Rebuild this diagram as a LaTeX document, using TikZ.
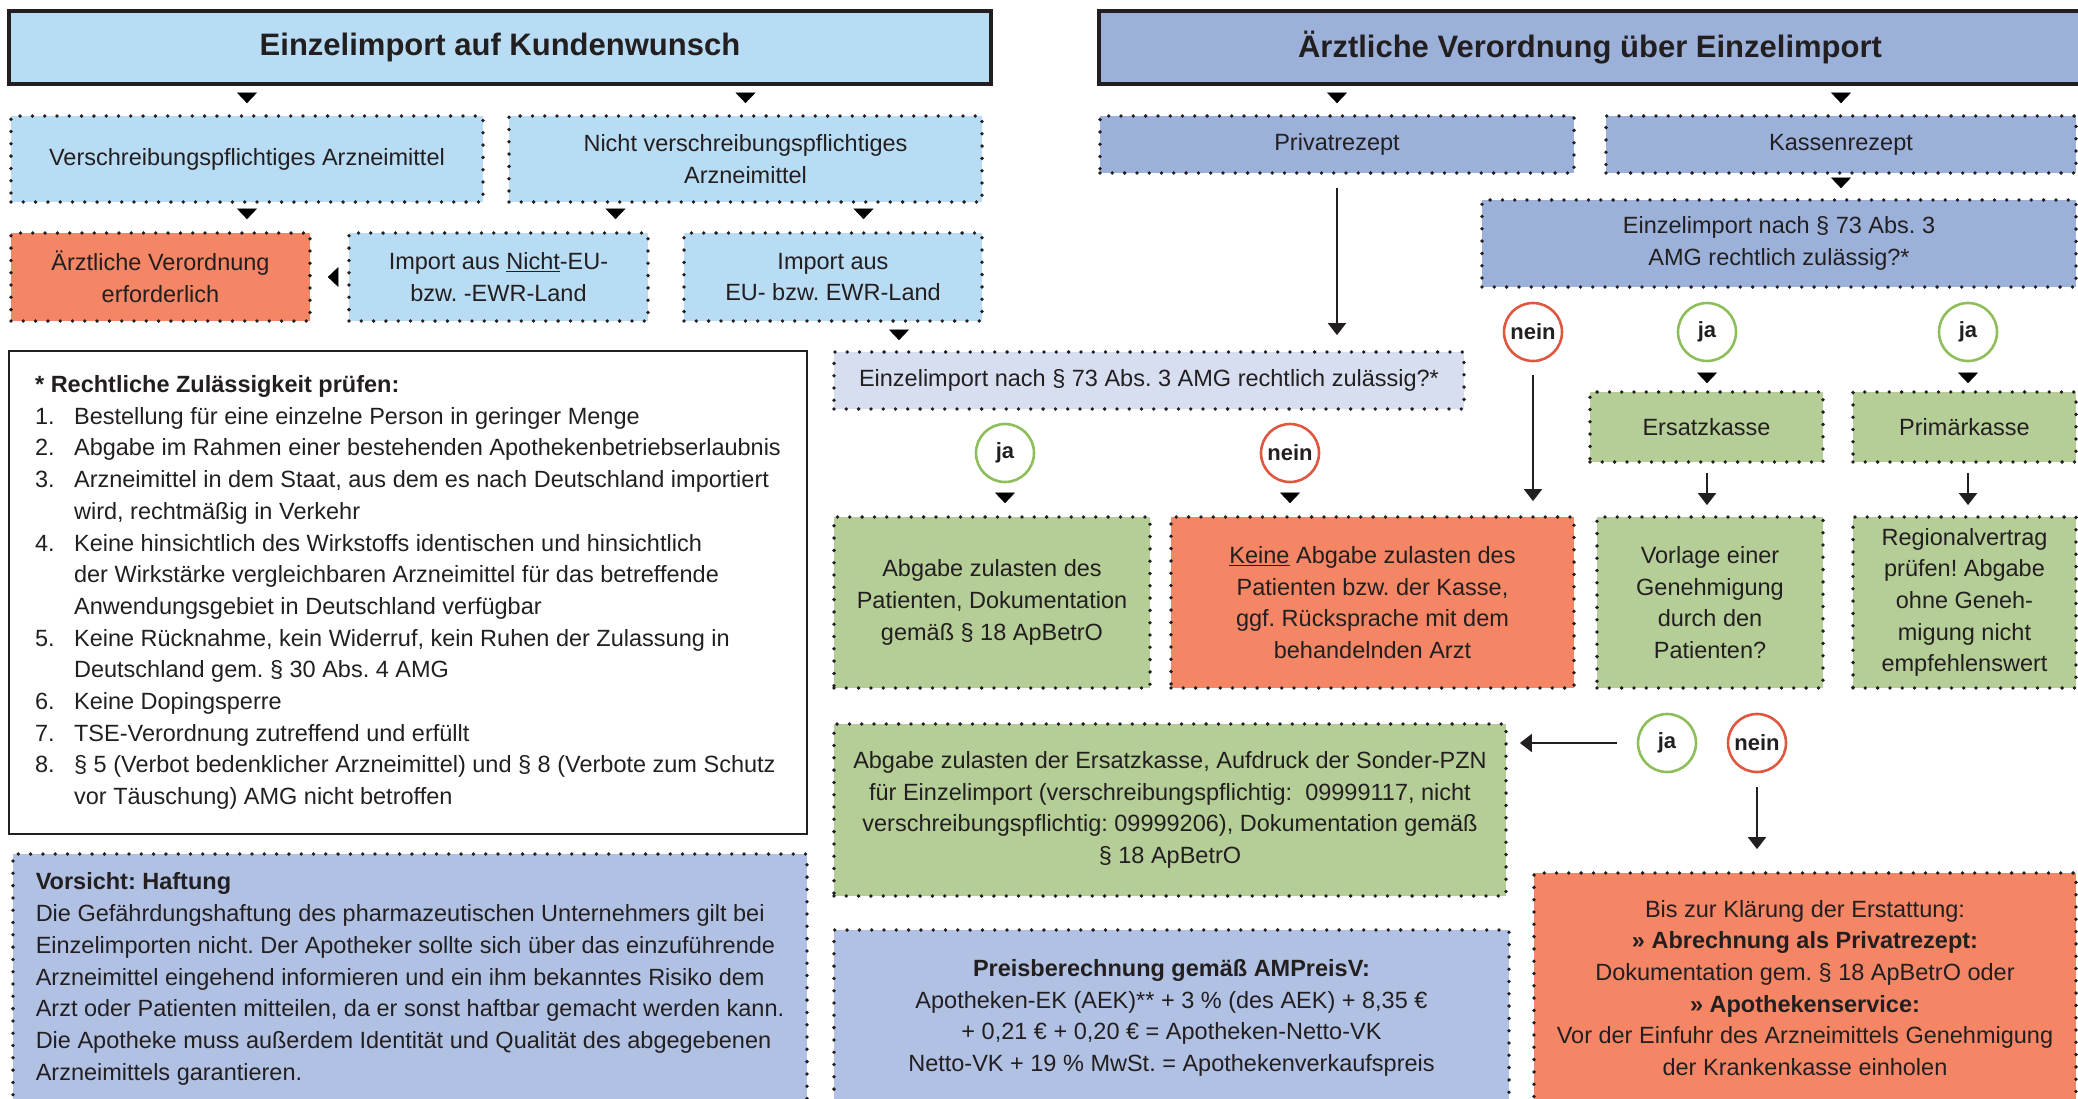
\documentclass[tikz,border=0pt]{standalone}
\usepackage{fontspec}
\setmainfont{Liberation Sans}
\usetikzlibrary{arrows.meta,decorations.markings}
\frenchspacing

\definecolor{ink}{HTML}{231F20}
\definecolor{skyfill}{HTML}{B8DCF3}
\definecolor{rxfill}{HTML}{9CB1DA}
\definecolor{palefill}{HTML}{D6DEF0}
\definecolor{notefill}{HTML}{B1C1E3}
\definecolor{okfill}{HTML}{B5CD96}
\definecolor{stopfill}{HTML}{F48565}
\definecolor{okring}{HTML}{8DBE5A}
\definecolor{stopring}{HTML}{E0573F}

\newcommand{\recnum}[1]{\makebox[39pt][l]{#1}}

\tikzset{
  headbox/.style={draw=ink, line width=4pt, inner sep=0pt, font=\fontsize{31}{36}\selectfont\bfseries},
  dotbox/.style={draw=ink, line width=3.8pt, dash pattern=on 0pt off 12.3pt, line cap=round, inner sep=0pt, align=center},
  ringja/.style={circle, draw=okring, line width=2.6pt, minimum size=58pt, inner sep=0pt, font=\fontsize{22}{26}\selectfont\bfseries},
  ringnein/.style={ringja, draw=stopring},
  tipto/.style={color=ink, decorate, decoration={markings, mark=at position #1 with {\arrow{Triangle[width=20pt,length=10.5pt]}}}},
  longto/.style={draw=ink, line width=2.2pt, -{Triangle[width=18pt,length=12pt]}}
}

\begin{document}
\begin{tikzpicture}[x=1pt, y=-1pt, text=ink, font=\fontsize{23.5}{31.7}\selectfont]
\useasboundingbox (0,0) rectangle (2078,1098);

\node[headbox, fill=skyfill, minimum width=982pt, minimum height=73pt] (kunde) at (500,47.5) {Einzelimport auf Kundenwunsch};
\node[headbox, fill=rxfill, minimum width=982pt, minimum height=73pt] (verord) at (1590,47.5) {Ärztliche Verordnung über Einzelimport};

\node[dotbox, fill=skyfill, minimum width=472pt, minimum height=86pt] (vpa) at (247,159) {Verschreibungspflichtiges Arzneimittel};
\node[dotbox, fill=skyfill, minimum width=473pt, minimum height=86pt] (nvpa) at (745.5,159) {Nicht verschreibungspflichtiges\\Arzneimittel};
\node[dotbox, fill=stopfill, minimum width=299pt, minimum height=88pt] (aerzt) at (160.5,277) {Ärztliche Verordnung\\erforderlich};
\node[dotbox, fill=skyfill, minimum width=299pt, minimum height=88pt] (nichteu) at (498.5,277) {Import aus \underline{Nicht}-EU-\\bzw. -EWR-Land};
\node[dotbox, fill=skyfill, minimum width=298pt, minimum height=88pt] (eu) at (833,277) {Import aus\\EU- bzw. EWR-Land};

\node[dotbox, fill=rxfill, minimum width=474pt, minimum height=57pt] (priv) at (1337,144.5) {Privatrezept};
\node[dotbox, fill=rxfill, minimum width=470pt, minimum height=57pt] (kasse) at (1841,144.5) {Kassenrezept};
\node[dotbox, fill=rxfill, minimum width=594pt, minimum height=87pt] (kzul) at (1779,243.5) {Einzelimport nach § 73 Abs. 3\\AMG rechtlich zulässig?*};
\node[dotbox, fill=palefill, minimum width=630pt, minimum height=57pt] (privzul) at (1149,380.5) {Einzelimport nach § 73 Abs. 3 AMG rechtlich zulässig?*};

\node[ringnein] (neinA) at (1533,332) {nein};
\node[ringja] (jaA) at (1707,332) {ja};
\node[ringja] (jaB) at (1968,332) {ja};
\node[dotbox, fill=okfill, minimum width=233pt, minimum height=70pt] (ersatz) at (1706.5,427) {Ersatzkasse};
\node[dotbox, fill=okfill, minimum width=223pt, minimum height=70pt] (primaer) at (1964.5,427) {Primärkasse};

\node[ringja] (jaC) at (1005,453) {ja};
\node[ringnein] (neinC) at (1290,453) {nein};

\node[dotbox, fill=okfill, minimum width=316pt, minimum height=171pt] (abgabe) at (992,602.5) {Abgabe zulasten des\\Patienten, Dokumentation\\gemäß § 18 ApBetrO};
\node[dotbox, fill=stopfill, minimum width=403pt, minimum height=171pt] (keine) at (1372.5,602.5) {\underline{Keine} Abgabe zulasten des\\Patienten bzw. der Kasse,\\ggf. Rücksprache mit dem\\behandelnden Arzt};
\node[dotbox, fill=okfill, minimum width=226pt, minimum height=171pt] (vorlage) at (1710,602.5) {Vorlage einer\\Genehmigung\\durch den\\Patienten?};
\node[dotbox, fill=okfill, minimum width=223pt, minimum height=171pt] (regio) at (1964.5,602.5) {Regionalvertrag\\prüfen! Abgabe\\ohne Geneh-\\migung nicht\\empfehlenswert};

\node[ringja] (jaD) at (1667,743) {ja};
\node[ringnein] (neinD) at (1757,743) {nein};

\node[dotbox, fill=okfill, minimum width=672pt, minimum height=172pt] (ekasse) at (1170,810) {Abgabe zulasten der Ersatzkasse, Aufdruck der Sonder-PZN\\für Einzelimport (verschreibungspflichtig:\ \ 09999117, nicht\\verschreibungspflichtig: 09999206), Dokumentation gemäß\\§ 18 ApBetrO};
\node[dotbox, fill=notefill, minimum width=675pt, minimum height=176pt] (preis) at (1171.5,1018) {\textbf{Preisberechnung gemäß AMPreisV:}\\Apotheken-EK (AEK)** + 3 \% (des AEK) + 8,35 €\\+ 0,21 € + 0,20 € = Apotheken-Netto-VK\\Netto-VK + 19 \% MwSt. = Apothekenverkaufspreis};
\node[dotbox, fill=stopfill, minimum width=542pt, minimum height=230pt] (privab) at (1805,988) {Bis zur Klärung der Erstattung:\\\textbf{» Abrechnung als Privatrezept:}\\Dokumentation gem. § 18 ApBetrO oder\\\textbf{» Apothekenservice:}\\Vor der Einfuhr des Arzneimittels Genehmigung\\der Krankenkasse einholen};

\node[draw=ink, line width=2.6pt, minimum width=798pt, minimum height=483pt, inner sep=0pt, align=left] (recht) at (408,592.5) {\textbf{* Rechtliche Zulässigkeit prüfen:}\\
\recnum{1.}Bestellung für eine einzelne Person in geringer Menge\\
\recnum{2.}Abgabe im Rahmen einer bestehenden Apothekenbetriebserlaubnis\\
\recnum{3.}Arzneimittel in dem Staat, aus dem es nach Deutschland importiert\\
\recnum{}wird, rechtmäßig in Verkehr\\
\recnum{4.}Keine hinsichtlich des Wirkstoffs identischen und hinsichtlich\\
\recnum{}der Wirkstärke vergleichbaren Arzneimittel für das betreffende\\
\recnum{}Anwendungsgebiet in Deutschland verfügbar\\
\recnum{5.}Keine Rücknahme, kein Widerruf, kein Ruhen der Zulassung in\\
\recnum{}Deutschland gem. § 30 Abs. 4 AMG\\
\recnum{6.}Keine Dopingsperre\\
\recnum{7.}TSE-Verordnung zutreffend und erfüllt\\
\recnum{8.}§ 5 (Verbot bedenklicher Arzneimittel) und § 8 (Verbote zum Schutz\\
\recnum{}vor Täuschung) AMG nicht betroffen};
\node[dotbox, fill=notefill, minimum width=794pt, minimum height=250pt, align=left] (haft) at (410,979) {\textbf{Vorsicht: Haftung}\\
Die Gefährdungshaftung des pharmazeutischen Unternehmers gilt bei\\
Einzelimporten nicht. Der Apotheker sollte sich über das einzuführende\\
Arzneimittel eingehend informieren und ein ihm bekanntes Risiko dem\\
Arzt oder Patienten mitteilen, da er sonst haftbar gemacht werden kann.\\
Die Apotheke muss außerdem Identität und Qualität des abgegebenen\\
Arzneimittels garantieren.};

\coordinate (nvl) at ([xshift=-130pt]nvpa.south);
\coordinate (nvr) at ([xshift=118pt]nvpa.south);
\coordinate (euout) at ([xshift=66pt]eu.south);

\path[tipto=-11pt] (kunde.south -| vpa.north) -- (vpa.north);
\path[tipto=-11pt] (kunde.south -| nvpa.north) -- (nvpa.north);
\path[tipto=-12pt] (vpa.south) -- (vpa.south |- aerzt.north);
\path[tipto=-12pt] (nvl) -- (nvl |- nichteu.north);
\path[tipto=-12pt] (nvr) -- (nvr |- eu.north);
\path[tipto=-16pt] (nichteu.west) -- (aerzt.east);
\path[tipto=-10pt] (euout) -- (euout |- privzul.north);
\path[tipto=-11pt] (verord.south -| priv.north) -- (priv.north);
\path[tipto=-11pt] (verord.south -| kasse.north) -- (kasse.north);
\path[tipto=-10pt] (kasse.south) -- (kasse.south |- kzul.north);
\path[tipto=-7pt] (jaA.south) -- (jaA.south |- ersatz.north);
\path[tipto=-7pt] (jaB.south) -- (jaB.south |- primaer.north);
\path[tipto=-12pt] (jaC.south) -- (jaC.south |- abgabe.north);
\path[tipto=-12pt] (neinC.south) -- (neinC.south |- keine.north);

\draw[longto, shorten <=13pt, shorten >=15pt] (priv.south) -- (priv.south |- privzul.north);
\draw[longto, shorten <=13pt, shorten >=14pt] (neinA.south) -- (neinA.south |- keine.north);
\draw[longto, shorten <=9pt, shorten >=10pt] (ersatz.south -| jaA.south) -- (jaA.south |- vorlage.north);
\draw[longto, shorten <=9pt, shorten >=10pt] (primaer.south -| jaB.south) -- (jaB.south |- regio.north);
\draw[longto, shorten <=20pt, shorten >=12pt] (jaD.west) -- (jaD.west -| ekasse.east);
\draw[longto, shorten <=14pt, shorten >=22pt] (neinD.south) -- (neinD.south |- privab.north);
\end{tikzpicture}
\end{document}
